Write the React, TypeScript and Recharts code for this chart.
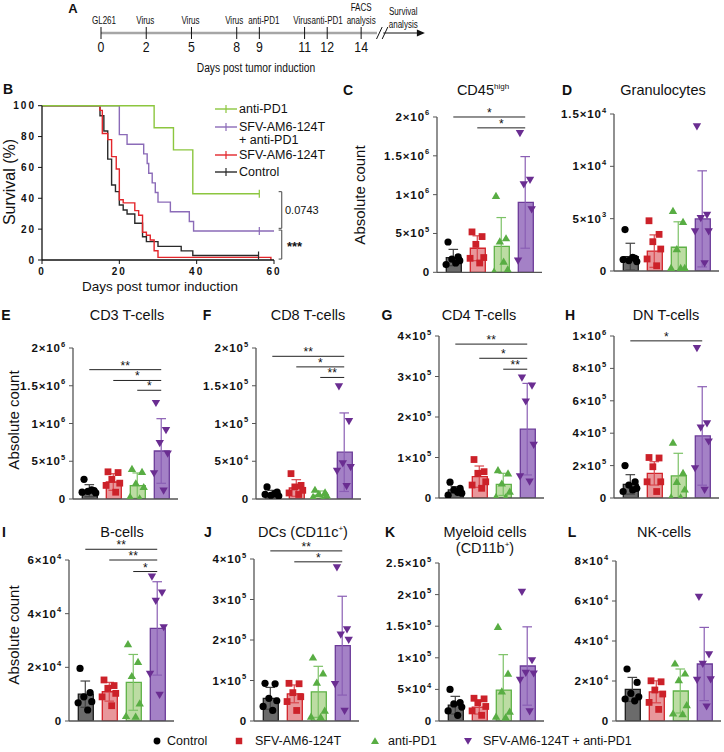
import React from "react";
import {
  ComposedChart,
  LineChart,
  Line,
  Bar,
  Cell,
  Scatter,
  XAxis,
  YAxis,
  ReferenceLine,
} from "recharts";

const FONT = '"Liberation Sans", Arial, Helvetica, sans-serif';

// ---------- A: timeline (schematic, not to scale) ----------
const timelineDays = [0, 2, 5, 8, 9, 11, 12, 14];
const timelineSlots = [0, 2, 4, 6, 7, 9, 10, 11.5];
const timelineEvents = ["GL261", "Virus", "Virus", "Virus", "anti-PD1", "Virus", "anti-PD1", "FACS\nanalysis"];
const survivalSlot = 13.36;
const tickSlots = [...timelineSlots, survivalSlot];
const tickLabels = [...timelineEvents, "Survival\nanalysis"];
const lineSlots = [0, 12.2];
const arrowSlots = [12.48, 14.23];
const breakSlots = [12.18, 12.43];
// small horizontal nudges of the event captions (px), as in the original artwork
const captionNudge = [3, -1, -1, -2.5, 4.5, -2.3, 0, 0, 0];

// ---------- B: survival ----------
const survPd1 = [[0, 100], [29, 85.7], [34, 71.4], [39, 42.9], [56.2, 42.9]];
const survCombo = [
  [0, 100], [20, 81.25], [22, 75], [26.3, 68.75], [27.2, 62.5], [27.6, 56.25], [28.5, 50],
  [29.3, 43.75], [30, 37.5], [33.2, 31.25], [38.1, 25], [39.2, 18.75], [56.2, 18.75], [60.3, 18.75],
];
const survSfv = [
  [0, 100], [15, 97], [15.6, 82], [17, 78], [18, 67], [19.2, 59], [20, 39], [21, 37], [24, 32],
  [25, 29], [26, 18], [27, 16], [28, 13], [29, 6], [30, 1.7], [59.2, 0],
];
const survControl = [
  [0, 100], [15, 93.5], [16, 83.6], [17, 65.4], [18, 48.6], [19, 44.3], [20, 35.6], [21, 32.4],
  [22, 29.8], [24, 23.8], [26, 15.1], [27, 11.9], [30, 8.8], [36, 5.9], [39, 2.9], [56, 2.9],
];
const censorPd1 = [56.2];
const censorCombo = [56.2, 60.3];
const censorSfv: number[] = [];
const censorControl = [56];
const survColors = ["#8cc63f", "#8b6bb8", "#e3262b", "#2a2a2a"];
const survNames = ["anti-PD1", "SFV-AM6-124T\n+ anti-PD1", "SFV-AM6-124T", "Control"];

// ---------- bar panels ----------
const groups = ["Control", "SFV-AM6-124T", "anti-PD1", "SFV-AM6-124T + anti-PD1"];
const barFill = ["#6b6b6b", "#e8979b", "#bcdca3", "#a481c6"];
const barStroke = ["#1c1c1c", "#d2232a", "#5eb146", "#6b3a98"];
const errColor = ["#444444", "#d9474d", "#7cc266", "#8a5eb4"];
const pointColor = ["#000000", "#cc2129", "#58ad43", "#6a2d91"];
const jitter = [-0.22, 0.2, -0.06, 0.27, -0.3, 0.1];

type Sig = { a: number; b: number; y: number; t: string };

// C CD45high (x1e6)
const cd45Mean = [0.19, 0.31, 0.335, 0.9];
const cd45Sd = [0.105, 0.16, 0.37, 0.59];
const cd45Pts = [[0.39, 0.2, 0.17, 0.15, 0.1, 0.12], [0.52, 0.46, 0.36, 0.19, 0.18, 0.12], [0.985, 0.44, 0.4, 0.04, 0.01, 0.14], [1.79, 1.19, 1.13, 0.81, 0.15]];
const cd45Sig: Sig[] = [{ a: 0, b: 3, y: 2.0, t: "*" }, { a: 1, b: 3, y: 1.86, t: "*" }];
const ticksM6 = [0, 0.5, 1, 1.5, 2];
const labelsM6 = ["0", "5×10^5", "1×10^6", "1.5×10^6", "2×10^6"];

// D Granulocytes (x1e3)
const granMean = [1.37, 1.9, 2.27, 4.98];
const granSd = [1.28, 1.55, 2.43, 4.59];
const granPts = [[3.96, 1.2, 1.0, 0.9, 1.1, 1.3], [4.8, 3.5, 2.8, 2.1, 1.15, 0.5], [5.75, 4.7, 2.1, 0.3, 0.3, 0.3], [13.8, 5.36, 5.04, 3.77, 3.77, 0.73]];
const granTicks = [0, 5, 10, 15];
const granLabels = ["0", "5×10^3", "1×10^4", "1.5×10^4"];

// E CD3 (x1e6)
const cd3Mean = [0.11, 0.225, 0.177, 0.636];
const cd3Sd = [0.08, 0.11, 0.168, 0.428];
const cd3Pts = [[0.26, 0.11, 0.1, 0.08, 0.09, 0.12], [0.36, 0.35, 0.26, 0.21, 0.18, 0.09], [0.4, 0.36, 0.21, 0.16, 0.03, 0.01], [1.27, 0.91, 0.74, 0.6, 0.34, 0.11]];
const cd3Sig: Sig[] = [{ a: 0, b: 3, y: 1.713, t: "**" }, { a: 1, b: 3, y: 1.57, t: "*" }, { a: 2, b: 3, y: 1.44, t: "*" }];

// F CD8 (x1e4)
const cd8Mean = [0.7, 1.46, 0.5, 6.2];
const cd8Sd = [0.45, 1.1, 0.56, 5.2];
const cd8Pts = [[1.6, 0.9, 0.5, 0.4, 0.6, 0.7], [3.36, 1.8, 1.6, 1.15, 0.8, 0.6], [1.24, 0.9, 0.7, 0.5, 0.3, 0.0], [14.9, 10.3, 4.7, 4.2, 3.7, 1.7]];
const cd8Sig: Sig[] = [{ a: 0, b: 3, y: 18.9, t: "**" }, { a: 1, b: 3, y: 17.5, t: "*" }, { a: 2, b: 3, y: 16.1, t: "**" }];
const cd8Ticks = [0, 5, 10, 15, 20];
const cd8Labels = ["0", "5×10^4", "1×10^5", "1.5×10^5", "2×10^5"];

// G CD4 (x1e5)
const cd4Mean = [0.2, 0.527, 0.337, 1.7];
const cd4Sd = [0.08, 0.263, 0.273, 1.13];
const cd4Pts = [[0.39, 0.24, 0.2, 0.12, 0.07, 0.14], [0.95, 0.65, 0.61, 0.4, 0.32, 0.24], [0.69, 0.61, 0.36, 0.16, 0.03, 0.02], [2.97, 2.77, 2.38, 1.31, 0.53, 0.4]];
const cd4Sig: Sig[] = [{ a: 0, b: 3, y: 3.8, t: "**" }, { a: 1, b: 3, y: 3.45, t: "*" }, { a: 2, b: 3, y: 3.18, t: "**" }];
const ticks4 = [0, 1, 2, 3, 4];
const labels4e5 = ["0", "1×10^5", "2×10^5", "3×10^5", "4×10^5"];

// H DN (x1e5)
const dnMean = [0.84, 1.52, 1.36, 3.83];
const dnSd = [0.6, 0.72, 1.4, 3.04];
const dnPts = [[2.0, 1.0, 0.8, 0.6, 0.4, 0.5], [2.5, 2.47, 1.93, 1.0, 1.0, 0.4], [3.42, 1.56, 1.0, 0.53, 0.04, 0.04], [9.24, 4.6, 4.34, 3.48, 1.83, 0.49]];
const dnSig: Sig[] = [{ a: 0, b: 3, y: 9.7, t: "*" }];
const dnTicks = [0, 2, 4, 6, 8, 10];
const dnLabels = ["0", "2×10^5", "4×10^5", "6×10^5", "8×10^5", "1×10^6"];

// I B-cells (x1e4)
const bMean = [1.0, 1.09, 1.44, 3.45];
const bSd = [0.49, 0.35, 1.04, 1.74];
const bPts = [[1.96, 1.06, 0.9, 0.72, 0.68, 0.41], [1.53, 1.32, 1.22, 1.03, 0.9, 0.57], [2.87, 2.21, 1.68, 0.66, 0.19, 0.17], [5.38, 4.78, 4.47, 3.49, 1.75, 0.97]];
const bSig: Sig[] = [{ a: 0, b: 3, y: 6.4, t: "**" }, { a: 1, b: 3, y: 6.0, t: "**" }, { a: 2, b: 3, y: 5.57, t: "*" }];
const bTicks = [0, 2, 4, 6];
const bLabels = ["0", "2×10^4", "4×10^4", "6×10^4"];

// J DCs (x1e5)
const dcMean = [0.56, 0.67, 0.72, 1.86];
const dcSd = [0.27, 0.22, 0.63, 1.22];
const dcPts = [[0.93, 0.92, 0.56, 0.5, 0.36, 0.26], [0.93, 0.92, 0.7, 0.6, 0.48, 0.26], [1.57, 1.18, 0.95, 0.26, 0.11, 0.1], [3.79, 2.26, 2.13, 2.0, 0.91, 0.25]];
const dcSig: Sig[] = [{ a: 0, b: 3, y: 4.2, t: "**" }, { a: 1, b: 3, y: 3.93, t: "*" }];

// K Myeloid (x1e5)
const myeMean = [0.25, 0.22, 0.49, 0.87];
const myeSd = [0.14, 0.11, 0.56, 0.62];
const myePts = [[0.5, 0.29, 0.27, 0.22, 0.16, 0.09], [0.36, 0.35, 0.29, 0.23, 0.16, 0.09], [1.49, 0.75, 0.47, 0.15, 0.07, 0.06], [2.04, 0.96, 0.76, 0.75, 0.65, 0.15]];
const myeTicks = [0, 0.5, 1, 1.5, 2, 2.5];
const myeLabels = ["0", "5×10^4", "1×10^5", "1.5×10^5", "2×10^5", "2.5×10^5"];

// L NK (x1e4)
const nkMean = [1.58, 1.46, 1.5, 2.85];
const nkSd = [0.6, 0.55, 1.1, 1.83];
const nkPts = [[2.6, 1.93, 1.38, 1.21, 1.1, 1.01], [2.01, 1.96, 1.55, 1.35, 0.93, 0.58], [2.88, 2.38, 2.05, 0.8, 0.38, 0.35], [6.2, 3.33, 2.85, 2.08, 2.05, 0.72]];
const nkTicks = [0, 2, 4, 6, 8];
const nkLabels = ["0", "2×10^4", "4×10^4", "6×10^4", "8×10^4"];

// ---------- helpers ----------
const Txt = ({ x, y, size = 14, bold = false, rotate = false, anchor = "middle", children, sx = 1 }: any) => (
  <div
    style={{
      position: "absolute",
      left: x,
      top: y,
      fontFamily: FONT,
      fontSize: size,
      fontWeight: bold ? 700 : 400,
      whiteSpace: "nowrap",
      lineHeight: 1,
      color: "#111",
      transformOrigin: anchor === "middle" ? "50% 50%" : "0 50%",
      transform:
        (anchor === "middle" ? "translate(-50%,-50%)" : "translate(0,-50%)") +
        (rotate ? " rotate(-90deg)" : "") +
        (sx !== 1 ? ` scaleX(${sx})` : ""),
    }}
  >
    {children}
  </div>
);

function Marker({ cx, cy, gi, s = 1 }: any) {
  const c = pointColor[gi];
  if (gi === 0) return <circle cx={cx} cy={cy} r={3.6 * s} fill={c} />;
  if (gi === 1) return <rect x={cx - 3.4 * s} y={cy - 3.4 * s} width={6.8 * s} height={6.8 * s} fill={c} />;
  if (gi === 2)
    return <polygon points={`${cx},${cy - 4 * s} ${cx + 4.2 * s},${cy + 3.2 * s} ${cx - 4.2 * s},${cy + 3.2 * s}`} fill={c} />;
  return <polygon points={`${cx - 4.2 * s},${cy - 3.2 * s} ${cx + 4.2 * s},${cy - 3.2 * s} ${cx},${cy + 4 * s}`} fill={c} />;
}

function YTick(props: any) {
  const { x, y, payload, tickVals, tickLabels: labs } = props;
  const i = tickVals.indexOf(payload.value);
  const lab: string = i >= 0 ? labs[i] : String(payload.value);
  const [base, exp] = lab.split("^");
  return (
    <text x={x} y={y} dy={4} textAnchor="end" fontFamily={FONT} fontSize={11.5} fontWeight={700} fill="#111" style={{ letterSpacing: 0.9 }}>
      {base}
      {exp ? <tspan dy={-5.5} fontSize={7.5}>{exp}</tspan> : null}
    </text>
  );
}

const PAD_L = 72;
const PAD_T = 30;
const PAD_R = 4;
const PAD_B = 10;
const PLOT_W = 105;
const X_DOMAIN = [-0.68, 3.7];
// category axis padding so band centres line up with 0..3 on the numeric axis
const CAT_PAD = { left: 4.3, right: 4.7 };

function BarPanel(p: {
  axisX: number; topY: number; bottomY: number; max: number; ticks: number[]; labels: string[];
  means: number[]; sds: number[]; pts: number[][]; sig?: Sig[];
}) {
  const plotH = p.bottomY - p.topY;
  const data = p.means.map((v, i) => ({ name: groups[i], x: i, v }));
  return (
    <div style={{ position: "absolute", left: p.axisX - PAD_L, top: p.topY - PAD_T }}>
      <ComposedChart
        width={PAD_L + PLOT_W + PAD_R}
        height={PAD_T + plotH + PAD_B}
        data={data}
        margin={{ top: PAD_T, right: PAD_R, bottom: 0, left: 0 }}
      >
        <XAxis xAxisId="cat" type="category" dataKey="name" hide padding={CAT_PAD} />
        <XAxis
          type="number"
          dataKey="x"
          domain={X_DOMAIN}
          ticks={[0, 1, 2, 3]}
          tick={false}
          tickSize={4}
          height={PAD_B}
          axisLine={{ stroke: "#555", strokeWidth: 1.3 }}
          tickLine={{ stroke: "#555", strokeWidth: 1 }}
          allowDataOverflow
        />
        <YAxis
          type="number"
          dataKey="v"
          domain={[0, p.max]}
          ticks={p.ticks}
          width={PAD_L}
          tickSize={4}
          tickMargin={3}
          interval={0}
          tick={<YTick tickVals={p.ticks} tickLabels={p.labels} />}
          axisLine={{ stroke: "#555", strokeWidth: 1.3 }}
          tickLine={{ stroke: "#555", strokeWidth: 1 }}
          allowDataOverflow
        />
        <Bar xAxisId="cat" dataKey="v" barSize={15} isAnimationActive={false}>
          {data.map((d, i) => (
            <Cell key={i} fill={barFill[i]} stroke={barStroke[i]} strokeWidth={1.3} />
          ))}
        </Bar>
        {p.means.map((m, i) => {
          const lo = Math.max(0, m - p.sds[i]);
          const hi = m + p.sds[i];
          const st = { stroke: errColor[i], strokeWidth: 1.2, ifOverflow: "visible" as const };
          return [
            <ReferenceLine key={`e${i}`} segment={[{ x: i, y: lo }, { x: i, y: hi }]} {...st} />,
            <ReferenceLine key={`t${i}`} segment={[{ x: i - 0.2, y: hi }, { x: i + 0.2, y: hi }]} {...st} />,
            lo > 0 ? <ReferenceLine key={`b${i}`} segment={[{ x: i - 0.2, y: lo }, { x: i + 0.2, y: lo }]} {...st} /> : null,
          ];
        })}
        {p.pts.map((vals, gi) => (
          <Scatter
            key={`p${gi}`}
            data={vals.map((v, k) => ({ x: gi + jitter[k], v }))}
            shape={(sp: any) => <Marker cx={sp.cx} cy={sp.cy} gi={gi} />}
            isAnimationActive={false}
          />
        ))}
        {(p.sig || []).map((s, k) => (
          <ReferenceLine
            key={`s${k}`}
            segment={[{ x: s.a, y: s.y }, { x: s.b, y: s.y }]}
            stroke="#222"
            strokeWidth={1}
            ifOverflow="visible"
            label={{ value: s.t, position: "top", offset: 0, fontSize: 12, fill: "#111", fontFamily: FONT }}
          />
        ))}
      </ComposedChart>
    </div>
  );
}

// one axis draws both the event captions (above the line) and the day numbers (below)
function TimelineTick(props: any) {
  const { x, y, payload } = props;
  const i = tickSlots.indexOf(payload.value);
  const lines = (tickLabels[i] || "").split("\n");
  const isSurv = payload.value === survivalSlot;
  const base = isSurv ? y - 11 : y - 15;
  return (
    <g>
      <g transform={`translate(${x + (captionNudge[i] || 0)} 0) scale(0.7 1)`}>
        <text textAnchor="middle" fontFamily={FONT} fontSize={11.5} fill="#111">
          {lines.map((l, k) => (
            <tspan key={k} x={0} y={base - (lines.length - 1 - k) * 12.5}>
              {l}
            </tspan>
          ))}
        </text>
      </g>
      {!isSurv && (
        <g transform={`translate(${x} 0) scale(0.82 1)`}>
          <text x={0} y={y + 13.5} textAnchor="middle" fontFamily={FONT} fontSize={15} fill="#111">
            {timelineDays[i]}
          </text>
        </g>
      )}
    </g>
  );
}

function Timeline() {
  const main = lineSlots.map((d) => ({ d, y: 0 }));
  const arrow = arrowSlots.map((d) => ({ d, y: 0 }));
  return (
    <div style={{ position: "absolute", left: 0, top: 0 }}>
      <LineChart width={439} height={80} margin={{ top: 27, right: 10, bottom: 0, left: 101 }}>
        <XAxis type="number" dataKey="d" domain={[0, 14.5]} ticks={tickSlots} interval={0}
          height={41} tickSize={0} tickMargin={0} axisLine={false} tickLine={false} tick={<TimelineTick />} allowDataOverflow />
        <YAxis hide type="number" dataKey="y" domain={[-1, 1]} />
        <Line data={main} dataKey="y" stroke="#a6a6a6" strokeWidth={2.6} dot={false} isAnimationActive={false} />
        <Line
          data={arrow}
          dataKey="y"
          stroke="#111"
          strokeWidth={1}
          isAnimationActive={false}
          dot={(dp: any) =>
            dp.index === arrow.length - 1 ? (
              <polygon key="arrow" points={`${dp.cx + 2},${dp.cy} ${dp.cx - 6},${dp.cy - 3.5} ${dp.cx - 6},${dp.cy + 3.5}`} fill="#111" />
            ) : (
              <g key={`n${dp.index}`} />
            )
          }
        />
        {timelineSlots.map((d) => (
          <ReferenceLine key={d} segment={[{ x: d, y: -1 }, { x: d, y: 1 }]} stroke="#111" strokeWidth={1} />
        ))}
        {breakSlots.map((d) => (
          <ReferenceLine key={`b${d}`} segment={[{ x: d, y: -1 }, { x: d + 0.25, y: 1 }]} stroke="#111" strokeWidth={1} />
        ))}
      </LineChart>
    </div>
  );
}

function SurvXTick(props: any) {
  const { x, y, payload } = props;
  return (
    <text x={x} y={y + 9} textAnchor="middle" fontFamily={FONT} fontSize={10} fontWeight={700} fill="#111" style={{ letterSpacing: 2 }}>
      {payload.value}
    </text>
  );
}
function SurvYTick(props: any) {
  const { x, y, payload } = props;
  return (
    <text x={x} y={y + 3.6} textAnchor="end" fontFamily={FONT} fontSize={10} fontWeight={700} fill="#111" style={{ letterSpacing: 2 }}>
      {payload.value}
    </text>
  );
}

function censorDot(color: string) {
  return (dp: any) =>
    dp.payload.c ? (
      <line key={`c${dp.index}`} x1={dp.cx} x2={dp.cx} y1={dp.cy - 4} y2={dp.cy + 4} stroke={color} strokeWidth={1.2} />
    ) : (
      <g key={`n${dp.index}`} />
    );
}

function Survival() {
  const series = [
    { pts: survPd1, cens: censorPd1 },
    { pts: survCombo, cens: censorCombo },
    { pts: survSfv, cens: censorSfv },
    { pts: survControl, cens: censorControl },
  ];
  const br = { stroke: "#555", strokeWidth: 1.1, ifOverflow: "visible" as const };
  return (
    <div style={{ position: "absolute", left: 0, top: 95 }}>
      <LineChart width={344} height={183} margin={{ top: 10.7, right: 70, bottom: 0, left: 0 }}>
        <XAxis type="number" dataKey="d" domain={[0, 60]} ticks={[0, 20, 40, 60]} height={18} tickSize={4} tickMargin={2}
          tick={<SurvXTick />} axisLine={{ stroke: "#111", strokeWidth: 1.3 }} tickLine={{ stroke: "#111" }} allowDataOverflow />
        <YAxis type="number" dataKey="s" domain={[0, 100]} ticks={[0, 20, 40, 60, 80, 100]} width={42} tickSize={4} tickMargin={2}
          interval={0} tick={<SurvYTick />} axisLine={{ stroke: "#111", strokeWidth: 1.3 }} tickLine={{ stroke: "#111" }} />
        {series.slice().reverse().map((sr, ri) => {
          const idx = series.length - 1 - ri;
          return (
            <Line
              key={idx}
              data={sr.pts.map(([d, s]) => ({ d, s, c: sr.cens.includes(d) }))}
              dataKey="s"
              type="stepAfter"
              stroke={survColors[idx]}
              strokeWidth={1.4}
              dot={censorDot(survColors[idx])}
              isAnimationActive={false}
            />
          );
        })}
        <ReferenceLine segment={[{ x: 62, y: 44.3 }, { x: 62, y: 20.5 }]} {...br} />
        <ReferenceLine segment={[{ x: 61.2, y: 44.3 }, { x: 62, y: 44.3 }]} {...br} />
        <ReferenceLine segment={[{ x: 61.2, y: 20.5 }, { x: 62, y: 20.5 }]} {...br} />
        <ReferenceLine segment={[{ x: 62, y: 19.4 }, { x: 62, y: 0.6 }]} {...br} />
        <ReferenceLine segment={[{ x: 61.2, y: 19.4 }, { x: 62, y: 19.4 }]} {...br} />
        <ReferenceLine segment={[{ x: 61.2, y: 0.6 }, { x: 62, y: 0.6 }]} {...br} />
      </LineChart>
    </div>
  );
}

function SurvLegend() {
  const rows = [109, 127, 155, 172];
  return (
    <>
      {rows.map((ry, i) => (
        <React.Fragment key={i}>
          <svg style={{ position: "absolute", left: 213, top: ry - 5 }} width={26} height={10}>
            <line x1={2} x2={24} y1={5} y2={5} stroke={survColors[i]} strokeWidth={1.4} />
            <line x1={13} x2={13} y1={1} y2={9} stroke={survColors[i]} strokeWidth={1.2} />
          </svg>
          {survNames[i].split("\n").map((l, k) => (
            <Txt key={k} x={239} y={ry + k * 12.5} size={12.5} anchor="start">
              {l}
            </Txt>
          ))}
        </React.Fragment>
      ))}
    </>
  );
}

function BottomLegend() {
  const xs = [157, 239, 375, 468];
  const tx = [167, 255, 388, 483];
  return (
    <>
      {groups.map((g, i) => (
        <React.Fragment key={g}>
          <svg style={{ position: "absolute", left: xs[i] - 6, top: 735 }} width={12} height={12}>
            <Marker cx={6} cy={6} gi={i} s={0.95} />
          </svg>
          <Txt x={tx[i]} y={741} size={12.5} anchor="start">
            {g}
          </Txt>
        </React.Fragment>
      ))}
    </>
  );
}

export default function App() {
  return (
    <div style={{ position: "absolute", left: 0, top: 0, width: 724, height: 752, background: "#fff", overflow: "hidden", fontFamily: FONT }}>
      <Timeline />
      <Txt x={256} y={68} size={12.5} sx={0.82}>Days post tumor induction</Txt>
      <Txt x={73} y={8} size={13} bold>A</Txt>

      <Survival />
      <SurvLegend />
      <Txt x={8} y={89} size={14} bold>B</Txt>
      <Txt x={10} y={182} size={16} rotate>Survival (%)</Txt>
      <Txt x={160} y={287} size={13.5}>Days post tumor induction</Txt>
      <Txt x={285} y={210} size={11} anchor="start">0.0743</Txt>
      <Txt x={287} y={246} size={13} bold anchor="start">***</Txt>

      <BarPanel axisX={437} topY={116.7} bottomY={272} max={2} ticks={ticksM6} labels={labelsM6} means={cd45Mean} sds={cd45Sd} pts={cd45Pts} sig={cd45Sig} />
      <BarPanel axisX={614} topY={114} bottomY={271} max={15} ticks={granTicks} labels={granLabels} means={granMean} sds={granSd} pts={granPts} />
      <BarPanel axisX={72.7} topY={347.7} bottomY={498.7} max={2} ticks={ticksM6} labels={labelsM6} means={cd3Mean} sds={cd3Sd} pts={cd3Pts} sig={cd3Sig} />
      <BarPanel axisX={256} topY={347.7} bottomY={498.7} max={20} ticks={cd8Ticks} labels={cd8Labels} means={cd8Mean} sds={cd8Sd} pts={cd8Pts} sig={cd8Sig} />
      <BarPanel axisX={439} topY={336} bottomY={498} max={4} ticks={ticks4} labels={labels4e5} means={cd4Mean} sds={cd4Sd} pts={cd4Pts} sig={cd4Sig} />
      <BarPanel axisX={614} topY={336} bottomY={498} max={10} ticks={dnTicks} labels={dnLabels} means={dnMean} sds={dnSd} pts={dnPts} sig={dnSig} />
      <BarPanel axisX={69} topY={560} bottomY={721} max={6} ticks={bTicks} labels={bLabels} means={bMean} sds={bSd} pts={bPts} sig={bSig} />
      <BarPanel axisX={254} topY={559} bottomY={721} max={4} ticks={ticks4} labels={labels4e5} means={dcMean} sds={dcSd} pts={dcPts} sig={dcSig} />
      <BarPanel axisX={439} topY={563} bottomY={721} max={2.5} ticks={myeTicks} labels={myeLabels} means={myeMean} sds={myeSd} pts={myePts} />
      <BarPanel axisX={616} topY={561} bottomY={721} max={8} ticks={nkTicks} labels={nkLabels} means={nkMean} sds={nkSd} pts={nkPts} />

      <Txt x={348} y={90} size={14} bold>C</Txt>
      <Txt x={483} y={90} size={14.5}>CD45<sup style={{ fontSize: 8 }}>high</sup></Txt>
      <Txt x={567} y={90} size={14} bold>D</Txt>
      <Txt x={663} y={90} size={14.5}>Granulocytes</Txt>
      <Txt x={359} y={195} size={15} rotate>Absolute count</Txt>

      <Txt x={6} y={315} size={14} bold>E</Txt>
      <Txt x={127} y={315} size={14.5}>CD3 T-cells</Txt>
      <Txt x={207} y={315} size={14} bold>F</Txt>
      <Txt x={308} y={315} size={14.5}>CD8 T-cells</Txt>
      <Txt x={387} y={315} size={14} bold>G</Txt>
      <Txt x={479} y={315} size={14.5}>CD4 T-cells</Txt>
      <Txt x={570} y={315} size={14} bold>H</Txt>
      <Txt x={666} y={315} size={14.5}>DN T-cells</Txt>
      <Txt x={13} y={420} size={15} rotate>Absolute count</Txt>

      <Txt x={4} y={532} size={14} bold>I</Txt>
      <Txt x={122} y={532} size={14.5}>B-cells</Txt>
      <Txt x={208} y={532} size={14} bold>J</Txt>
      <Txt x={303} y={532} size={14.5}>DCs (CD11c<sup style={{ fontSize: 8 }}>+</sup>)</Txt>
      <Txt x={390} y={532} size={14} bold>K</Txt>
      <Txt x={485} y={532} size={14.5}>Myeloid cells</Txt>
      <Txt x={485} y={548} size={14.5}>(CD11b<sup style={{ fontSize: 8 }}>+</sup>)</Txt>
      <Txt x={572} y={532} size={14} bold>L</Txt>
      <Txt x={664} y={532} size={14.5}>NK-cells</Txt>
      <Txt x={13} y={635} size={15} rotate>Absolute count</Txt>

      <BottomLegend />
    </div>
  );
}
